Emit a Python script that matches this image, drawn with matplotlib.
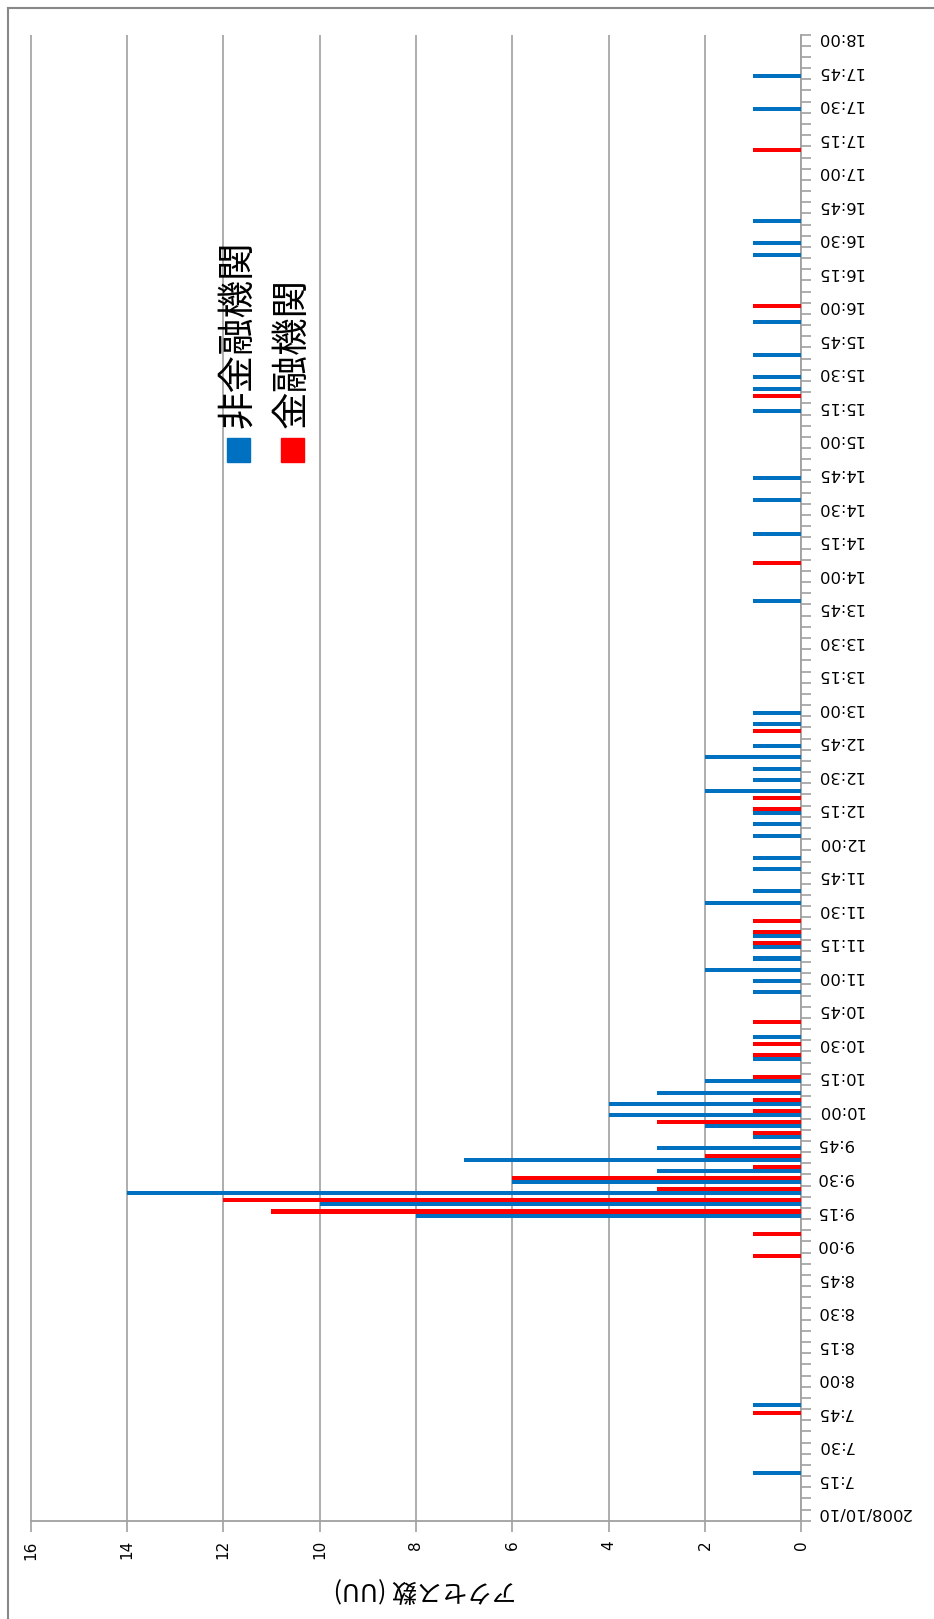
import numpy as np
import matplotlib.pyplot as plt
import matplotlib.transforms as mtransforms
from matplotlib.lines import Line2D
from matplotlib.patches import Rectangle

W, H = 934, 1619
jp = ['Noto Sans CJK JP', 'DejaVu Sans']

# 5分毎のアクセス数 (値のある時刻だけ)
blue_times = ["7:20", "7:50", "9:15", "9:20", "9:25", "9:30", "9:35", "9:40", "9:45",
              "9:50", "9:55", "10:00", "10:05", "10:10", "10:15", "10:25", "10:35",
              "10:55", "11:00", "11:05", "11:10", "11:15", "11:20", "11:35", "11:40",
              "11:50", "11:55", "12:05", "12:10", "12:15", "12:25", "12:30", "12:35",
              "12:40", "12:45", "12:55", "13:00", "13:50", "14:20", "14:35", "14:45",
              "15:15", "15:25", "15:30", "15:40", "15:55", "16:25", "16:30", "16:40",
              "17:30", "17:45"]
blue_vals = [1, 1, 8, 10, 14, 6, 3, 7, 3,
             1, 2, 4, 4, 3, 2, 1, 1,
             1, 1, 2, 1, 1, 1, 2, 1,
             1, 1, 1, 1, 1, 2, 1, 1,
             2, 1, 1, 1, 1, 1, 1, 1,
             1, 1, 1, 1, 1, 1, 1, 1,
             1, 1]
red_times = ["7:45", "8:55", "9:05", "9:15", "9:20", "9:25", "9:30", "9:35", "9:40",
             "9:50", "9:55", "10:00", "10:05", "10:15", "10:25", "10:30", "10:40",
             "11:15", "11:20", "11:25", "12:15", "12:20", "12:50", "14:05", "15:20",
             "16:00", "17:10"]
red_vals = [1, 1, 1, 11, 12, 3, 6, 1, 2,
            1, 3, 1, 1, 1, 1, 1, 1,
            1, 1, 1, 1, 1, 1, 1, 1,
            1, 1]

# カテゴリ 7:00 - 18:00
cats = []
for h in range(7, 19):
    for m in range(0, 60, 5):
        cats.append("%d:%02d" % (h, m))
cats = cats[:133]

blue = np.zeros(len(cats))
for t, v in zip(blue_times, blue_vals):
    blue[cats.index(t)] = v
red = np.zeros(len(cats))
for t, v in zip(red_times, red_vals):
    red[cats.index(t)] = v

lab_pos = np.arange(0, len(cats), 3)
lab_txt = [cats[i] for i in lab_pos]
lab_txt[0] = "2008/10/10"

fig = plt.figure(figsize=(W / 100, H / 100), dpi=100)
ax = fig.add_axes([30.5 / W, 1 - 1520.8 / H, (801.3 - 30.5) / W, (1520.8 - 34.6) / H])

y = np.arange(len(cats))
ax.barh(y - 0.18, blue, height=0.36, color='#0070C0', lw=0, zorder=3)
ax.barh(y + 0.18, red, height=0.36, color='#FF0000', lw=0, zorder=3)

ax.set_xlim(16, 0)
ax.set_ylim(-0.5, len(cats) - 0.5)

gcol = '#a0a0a0'
for s in ['top', 'left']:
    ax.spines[s].set_visible(False)
for s in ['right', 'bottom']:
    ax.spines[s].set_color(gcol)
    ax.spines[s].set_linewidth(1.3)

ax.set_xticks(range(0, 17, 2))
ax.xaxis.grid(True, color=gcol, lw=1.2, zorder=0)
ax.tick_params(axis='x', direction='out', length=8, color=gcol, width=1.2,
               labelsize=11, labelrotation=90, pad=6)

ax.yaxis.tick_right()
ax.set_yticks(np.arange(-0.5, len(cats), 1))
ax.set_yticks(lab_pos, minor=True)
ax.set_yticklabels(lab_txt, minor=True, rotation=180)
ax.tick_params(axis='y', which='major', direction='out', length=7, color=gcol,
               width=1.2, labelright=False)
ax.tick_params(axis='y', which='minor', length=0, labelsize=11.8, pad=11)
up = mtransforms.ScaledTranslation(0, 4 / 100, fig.dpi_scale_trans)
for lab in ax.yaxis.get_minorticklabels():
    lab.set_transform(lab.get_transform() + up)

fig.text(425 / W, 1 - 1590 / H, "アクセス数 (UU)", rotation=180, fontsize=18,
         family=jp, ha='center', va='center')

# 凡例
for xc, col, txt in [(238, '#0070C0', "非金融機関"), (292, '#FF0000', "金融機関")]:
    fig.patches.append(Rectangle(((xc - 11.5) / W, 1 - 462 / H), 23 / W, 24 / H,
                                 color=col, transform=fig.transFigure))
    fig.text(xc / W, 1 - 428 / H, txt, rotation=90, fontsize=27, family=jp,
             ha='center', va='bottom')

# 外枠
fig.add_artist(Line2D([8 / W, 8 / W], [0, 1 - 8 / H], color='#888888', lw=1.5))
fig.add_artist(Line2D([8 / W, 1], [1 - 8 / H, 1 - 8 / H], color='#888888', lw=1.5))

fig.savefig("out.png", dpi=100)
